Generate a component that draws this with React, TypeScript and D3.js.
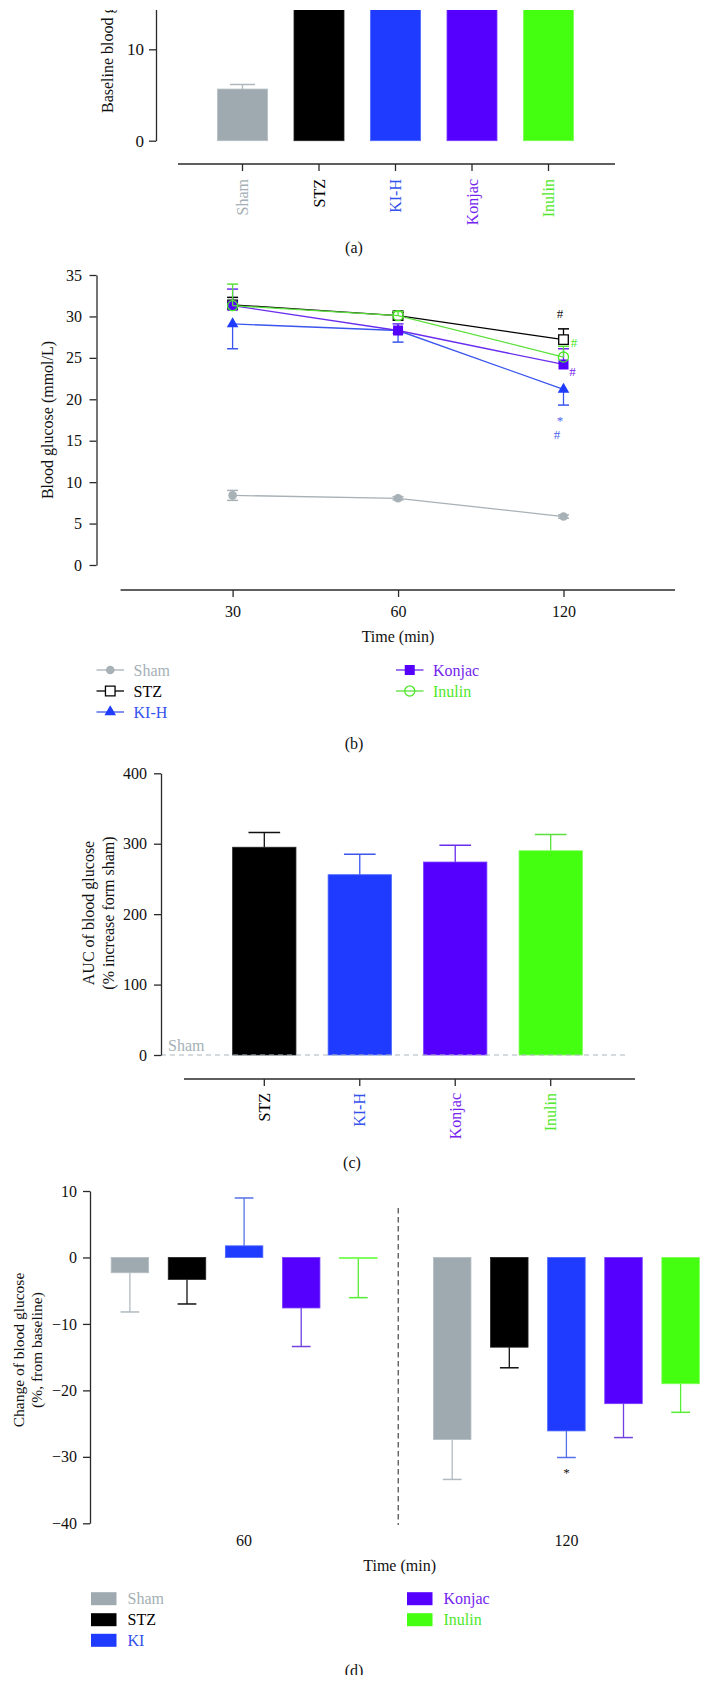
import { useEffect, useRef } from 'react';
import * as d3 from 'd3';

// groups shared by all panels
const groups = ['Sham', 'STZ', 'KI-H', 'Konjac', 'Inulin'];
const barColors = ['#9eaab0', '#000000', '#1f3bff', '#5500ff', '#44ff0f'];
const barEdges = ['#b4bec3', '#222222', '#4a66ff', '#7a3cff', '#7aff55'];
const textColors = ['#a4b0b6', '#000000', '#3452ee', '#7424ee', '#4ee82a'];
const lineColors = ['#a7b1b6', '#000000', '#3a56ee', '#6a2cee', '#5ae03a'];

// (a) baseline blood glucose (mmol/L)
const baselineValues = [5.65, 27.8, 27.2, 28.1, 28.4];
const baselineErr = [0.5, 1.2, 1.0, 1.0, 1.1];
const baselineTicks = [0, 10];

// (b) blood glucose over time (mmol/L)
const times = ['30', '60', '120'];
const glucoseSham = [8.4, 8.05, 5.85];
const glucoseStz = [31.4, 30.1, 27.2];
const glucoseKih = [29.1, 28.3, 21.2];
const glucoseKonjac = [31.3, 28.3, 24.2];
const glucoseInulin = [31.3, 30.1, 25.1];
const errSham = [0.6, 0.2, 0.2];
const errStz = [0.9, 0.4, 1.3];
const errKih = [3.0, 1.4, 1.9];
const errKonjac = [2.0, 0.8, 1.9];
const errInulin = [2.6, 0.5, 1.3];
const errDir = [0, 1, -1, 1, 1]; // 0 = both ways
const marks120 = [
  { text: '#', color: '#111111', dx: -3.5, v: 30.4 },
  { text: '#', color: '#4ee82a', dx: 10.5, v: 26.8 },
  { text: '#', color: '#7424ee', dx: 9, v: 23.4 },
  { text: '*', color: '#4a66ee', dx: -3.5, v: 17.4 },
  { text: '#', color: '#4a66ee', dx: -6.5, v: 15.8 },
];

// (c) AUC (% increase from sham)
const aucGroups = ['STZ', 'KI-H', 'Konjac', 'Inulin'];
const aucValues = [295, 256, 274, 290];
const aucErr = [21, 29, 24, 23];

// (d) change from baseline (%)
const changeTimes = ['60', '120'];
const changeLegend = ['Sham', 'STZ', 'KI', 'Konjac', 'Inulin'];
const change60 = [-2.3, -3.3, 1.75, -7.6, -0.15];
const change60Err = [5.9, 3.7, 7.2, 5.8, 5.9];
const change120 = [-27.4, -13.5, -26.1, -22.0, -19.0];
const change120Err = [6.0, 3.1, 4.0, 5.1, 4.3];

const FONT = "'Liberation Serif', 'DejaVu Serif', 'Times New Roman', serif";
const AXIS = '#2a2a2a';

export default function App() {
  const svgRef = useRef<SVGSVGElement>(null);

  useEffect(() => {
    if (!svgRef.current) return;
    document.body.style.margin = '0';
    const svg = d3.select(svgRef.current);
    svg.selectAll('*').remove();
    const defs = svg.append('defs');

    const styleAxis = (g: any, fs: number) => {
      g.attr('font-family', FONT).style('font-family', FONT);
      g.select('.domain').attr('stroke', AXIS).attr('stroke-width', 1.3);
      g.selectAll('.tick line').attr('stroke', AXIS).attr('stroke-width', 1.3);
      g.selectAll('.tick text').style('font-family', FONT).attr('font-size', fs).attr('fill', '#111');
    };

    const text = (g: any, x: number, y: number, s: string, opts: any = {}) =>
      g.append('text')
        .attr('x', x).attr('y', y)
        .style('font-family', FONT)
        .attr('font-size', opts.size || 16)
        .attr('fill', opts.color || '#111')
        .attr('text-anchor', opts.anchor || 'middle')
        .attr('dy', opts.dy || '0.35em')
        .text(s);

    const rotText = (g: any, x: number, y: number, s: string, opts: any = {}) =>
      g.append('text')
        .attr('transform', `translate(${x},${y}) rotate(-90)`)
        .style('font-family', FONT)
        .attr('font-size', opts.size || 16)
        .attr('fill', opts.color || '#111')
        .attr('text-anchor', opts.anchor || 'middle')
        .attr('dy', '0.35em')
        .text(s);

    const errBar = (g: any, x: number, y0: number, y1: number, cap: number, color: string) => {
      g.append('line').attr('x1', x).attr('x2', x).attr('y1', y0).attr('y2', y1)
        .attr('stroke', color).attr('stroke-width', 1.3);
      g.append('line').attr('x1', x - cap / 2).attr('x2', x + cap / 2).attr('y1', y1).attr('y2', y1)
        .attr('stroke', color).attr('stroke-width', 1.5);
    };

    // ---------- (a) ----------
    // the source figure is cropped at the top, so clip everything above y = 10
    defs.append('clipPath').attr('id', 'clipA')
      .append('rect').attr('x', 0).attr('y', 10).attr('width', 710).attr('height', 300);
    const gA = svg.append('g').attr('clip-path', 'url(#clipA)');
    const yA = d3.scaleLinear().domain([0, 30]).range([140.7, 140.7 - 3 * 91.4]);
    const xA = d3.scalePoint<string>().domain(groups).range([242.5, 548.5]);
    const bwA = 50;

    groups.forEach((gname, i) => {
      const cx = xA(gname)!;
      const v = baselineValues[i];
      if (i === 0) errBar(gA, cx, yA(v), yA(v + baselineErr[i]), bwA / 2, '#aeb8bd');
      gA.append('rect')
        .attr('x', cx - bwA / 2).attr('width', bwA)
        .attr('y', yA(v)).attr('height', yA(0) - yA(v))
        .attr('fill', barColors[i]).attr('stroke', barEdges[i]).attr('stroke-width', 0.8);
    });

    const axA = gA.append('g').attr('transform', 'translate(156,0)')
      .call(d3.axisLeft(yA).tickValues(baselineTicks).tickSize(7).tickPadding(5).tickSizeOuter(0));
    styleAxis(axA, 17);
    rotText(gA, 107, 113, 'Baseline blood glucose (mmol/L)', { anchor: 'start' });

    gA.append('line').attr('x1', 178).attr('x2', 615).attr('y1', 164).attr('y2', 164)
      .attr('stroke', AXIS).attr('stroke-width', 1.3);
    groups.forEach((gname, i) => {
      const cx = xA(gname)!;
      gA.append('line').attr('x1', cx).attr('x2', cx).attr('y1', 164).attr('y2', 171)
        .attr('stroke', AXIS).attr('stroke-width', 1.3);
      rotText(gA, cx, 179, gname, { anchor: 'end', color: textColors[i] });
    });
    text(svg, 354, 247, '(a)');

    // ---------- (b) ----------
    const gB = svg.append('g');
    const yB = d3.scaleLinear().domain([0, 35]).range([565, 275]);
    const xB = d3.scalePoint<string>().domain(times).range([232.6, 563.5]);
    const seriesB = [
      { v: glucoseSham, e: errSham },
      { v: glucoseStz, e: errStz },
      { v: glucoseKih, e: errKih },
      { v: glucoseKonjac, e: errKonjac },
      { v: glucoseInulin, e: errInulin },
    ];
    const shapes = [d3.symbolCircle, d3.symbolSquare, d3.symbolTriangle, d3.symbolSquare, d3.symbolCircle];
    const sizes = [58, 92, 58, 100, 80];
    const fills = [lineColors[0], '#ffffff', '#1f3bff', '#5500ff', 'none'];
    const strokes = ['none', '#000', 'none', 'none', '#4ee82a'];

    const marker = (g: any, i: number, x: number, y: number) =>
      g.append('path')
        .attr('d', d3.symbol().type(shapes[i]).size(sizes[i])())
        .attr('transform', `translate(${x},${y})`)
        .attr('fill', fills[i])
        .attr('stroke', strokes[i]).attr('stroke-width', 1.3);

    const lineGen = d3.line<number>().x((_, j) => xB(times[j])!).y((d) => yB(d));
    seriesB.forEach((s, i) => {
      const sg = gB.append('g');
      s.v.forEach((v, j) => {
        const x = xB(times[j])!;
        if (errDir[i] >= 0) errBar(sg, x, yB(v), yB(v + s.e[j]), 11, lineColors[i]);
        if (errDir[i] <= 0) errBar(sg, x, yB(v), yB(v - s.e[j]), 11, lineColors[i]);
      });
      sg.append('path').attr('d', lineGen(s.v)).attr('fill', 'none')
        .attr('stroke', lineColors[i]).attr('stroke-width', 1.3);
      s.v.forEach((v, j) => marker(sg, i, xB(times[j])!, yB(v)));
    });

    marks120.forEach((m) => {
      text(gB, xB('120')! + m.dx, yB(m.v), m.text, { size: 13, color: m.color });
    });

    const axB = gB.append('g').attr('transform', 'translate(96.5,0)')
      .call(d3.axisLeft(yB).ticks(7).tickSize(7).tickPadding(7.5).tickSizeOuter(0));
    styleAxis(axB, 16);
    rotText(gB, 47.8, 420, 'Blood glucose (mmol/L)');

    gB.append('line').attr('x1', 120.6).attr('x2', 675).attr('y1', 590).attr('y2', 590)
      .attr('stroke', AXIS).attr('stroke-width', 1.3);
    const axBx = gB.append('g').attr('transform', 'translate(0,590)')
      .call(d3.axisBottom(xB).tickSize(7).tickPadding(8.5).tickSizeOuter(0));
    axBx.select('.domain').remove();
    styleAxis(axBx, 16);
    text(gB, 398, 636, 'Time (min)');

    // legend (b)
    const legB = [
      { i: 0, x: 96.5, y: 670 },
      { i: 1, x: 96.5, y: 691 },
      { i: 2, x: 96.5, y: 712 },
      { i: 3, x: 396, y: 670 },
      { i: 4, x: 396, y: 691 },
    ];
    legB.forEach((l) => {
      gB.append('line').attr('x1', l.x).attr('x2', l.x + 27.5).attr('y1', l.y).attr('y2', l.y)
        .attr('stroke', lineColors[l.i]).attr('stroke-width', 1.3);
      marker(gB, l.i, l.x + 13.75, l.y);
      text(gB, l.x + 37, l.y, groups[l.i], { anchor: 'start', color: textColors[l.i] });
    });
    text(svg, 354, 743, '(b)');

    // ---------- (c) ----------
    const gC = svg.append('g');
    const yC = d3.scaleLinear().domain([0, 400]).range([1055, 773.3]);
    const xC = d3.scalePoint<string>().domain(aucGroups).range([264.3, 550.7]);
    const bwC = 63.3;
    aucGroups.forEach((gname, k) => {
      const i = groups.indexOf(gname);
      const cx = xC(gname)!;
      const v = aucValues[k];
      errBar(gC, cx, yC(v), yC(v + aucErr[k]), bwC / 2, i === 1 ? '#111' : lineColors[i]);
      gC.append('rect')
        .attr('x', cx - bwC / 2).attr('width', bwC)
        .attr('y', yC(v)).attr('height', yC(0) - yC(v))
        .attr('fill', barColors[i]).attr('stroke', barEdges[i]).attr('stroke-width', 0.8);
    });
    gC.append('line').attr('x1', 161).attr('x2', 627).attr('y1', yC(0)).attr('y2', yC(0))
      .attr('stroke', '#a9b5bd').attr('stroke-width', 1.2).attr('stroke-dasharray', '5,4');
    text(gC, 168, yC(0) - 9.5, 'Sham', { anchor: 'start', color: '#a4b0b6' });

    const axC = gC.append('g').attr('transform', 'translate(161,0)')
      .call(d3.axisLeft(yC).ticks(4).tickSize(7).tickPadding(7).tickSizeOuter(0));
    styleAxis(axC, 16);
    rotText(gC, 88.8, 913, 'AUC of blood glucose');
    rotText(gC, 108, 913, '(% increase form sham)');

    gC.append('line').attr('x1', 184).attr('x2', 635).attr('y1', 1079).attr('y2', 1079)
      .attr('stroke', AXIS).attr('stroke-width', 1.3);
    aucGroups.forEach((gname) => {
      const i = groups.indexOf(gname);
      const cx = xC(gname)!;
      gC.append('line').attr('x1', cx).attr('x2', cx).attr('y1', 1079).attr('y2', 1086)
        .attr('stroke', AXIS).attr('stroke-width', 1.3);
      rotText(gC, cx, 1093, gname, { anchor: 'end', color: textColors[i] });
    });
    text(svg, 352, 1162, '(c)');

    // ---------- (d) ----------
    const gD = svg.append('g');
    const yD = d3.scaleLinear().domain([-40, 10]).range([1523.3, 1191]);
    const xD = d3.scalePoint<string>().domain(changeTimes).range([244.1, 566.4]);
    const xInner = d3.scalePoint<string>().domain(changeLegend).range([-2 * 57.1, 2 * 57.1]);
    const bwD = 37.5;
    const changeData = [
      { t: '60', v: change60, e: change60Err },
      { t: '120', v: change120, e: change120Err },
    ];
    const errColD = ['#b0bac0', '#111', '#5570e8', '#7040e0', '#55ee33'];
    changeData.forEach((cd) => {
      cd.v.forEach((v, i) => {
        const cx = xD(cd.t)! + xInner(changeLegend[i])!;
        const sgn = v >= 0 ? 1 : -1;
        errBar(gD, cx, yD(v), yD(v + sgn * cd.e[i]), bwD / 2, errColD[i]);
        gD.append('rect')
          .attr('x', cx - bwD / 2).attr('width', bwD)
          .attr('y', yD(Math.max(0, v))).attr('height', Math.abs(yD(v) - yD(0)))
          .attr('fill', barColors[i]).attr('stroke', barEdges[i]).attr('stroke-width', 0.8);
      });
    });
    text(gD, xD('120')! + xInner('KI')!, yD(-32.4), '*', { size: 13 });

    const divX = (xD('60')! + xD('120')!) / 2 - 7;
    gD.append('line').attr('x1', divX).attr('x2', divX).attr('y1', 1208).attr('y2', 1525)
      .attr('stroke', '#555').attr('stroke-width', 1.3).attr('stroke-dasharray', '5.5,3.5');

    const axD = gD.append('g').attr('transform', 'translate(90,0)')
      .call(d3.axisLeft(yD).ticks(5).tickSize(7).tickPadding(6).tickSizeOuter(0));
    styleAxis(axD, 16);
    rotText(gD, 19, 1350, 'Change of blood glucose', { size: 15.5 });
    rotText(gD, 37, 1350, '(%, from baseline)', { size: 15.5 });

    changeTimes.forEach((t) => text(gD, xD(t)!, 1540, t));
    text(gD, 399.6, 1565, 'Time (min)');

    const legD = [
      { i: 0, x: 91, y: 1598.7 },
      { i: 1, x: 91, y: 1619.7 },
      { i: 2, x: 91, y: 1640.3 },
      { i: 3, x: 407, y: 1598.7 },
      { i: 4, x: 407, y: 1619.7 },
    ];
    legD.forEach((l) => {
      gD.append('rect').attr('x', l.x).attr('y', l.y - 6.5).attr('width', 25.5).attr('height', 13)
        .attr('fill', barColors[l.i]);
      text(gD, l.x + 36.5, l.y, changeLegend[l.i], { anchor: 'start', color: textColors[l.i] });
    });

    // "(d)" is cut off at the bottom in the source
    defs.append('clipPath').attr('id', 'clipD')
      .append('rect').attr('x', 0).attr('y', 1600).attr('width', 710).attr('height', 75);
    const gDl = svg.append('g').attr('clip-path', 'url(#clipD)');
    text(gDl, 354, 1670, '(d)');
  }, []);

  return (
    <div style={{ background: '#ffffff' }}>
      <svg ref={svgRef} width={710} height={1700} viewBox="0 0 710 1700" style={{ display: 'block' }} />
    </div>
  );
}
